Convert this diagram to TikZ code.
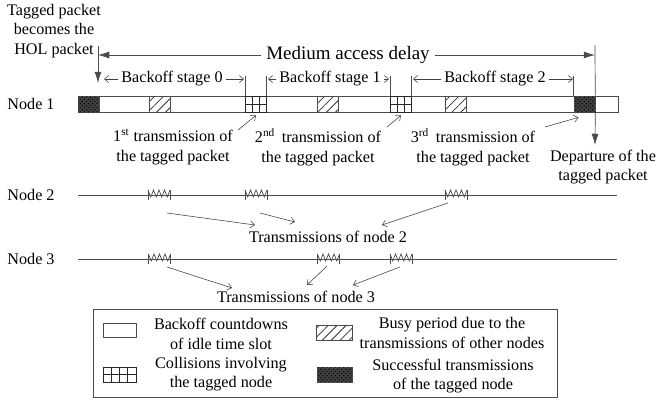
\documentclass[tikz,border=0pt]{standalone}
\usepackage{fontspec}
\setmainfont{Liberation Serif}
\usetikzlibrary{arrows.meta,patterns,patterns.meta,calc}

\tikzset{
  gline/.style={draw=black!70, line width=0.5pt},
  bigarrow/.style={draw=black!70, fill=black!70, line width=0.5pt, -{Latex[length=8pt,width=5pt]}},
  smallarrow/.style={draw=black!75, line width=0.4pt, -{Straight Barb[length=3pt,width=5pt]}},
  slot/.style={draw=black!70, line width=0.5pt, inner sep=0pt, minimum width=0.52cm, minimum height=0.4cm},
  idle/.style={slot, fill=white},
  busy/.style={slot, pattern={Lines[angle=45,distance=4.5pt,line width=0.55pt]}, pattern color=black!80},
  succ/.style={slot, fill=black!75, postaction={pattern=crosshatch dots, pattern color=black}},
  coll/.style={slot, draw=black!85, path picture={
      \draw[black!85] (path picture bounding box.west) -- (path picture bounding box.east);
      \foreach \k [evaluate=\k as \f using \k/#1] in {1,...,#1}
        \draw[black!85] ($(path picture bounding box.north west)!\f!(path picture bounding box.north east)$)
          -- ($(path picture bounding box.south west)!\f!(path picture bounding box.south east)$);}},
  lbl/.style={inner sep=2pt, align=center},
  zz/.pic={
    \draw[black!70, line width=0.5pt] (-11,-5) -- (-11,5) (11,-5) -- (11,5);
    \draw[black!70, line width=0.5pt] (-11,-5) -- (-8.25,2) -- (-5.5,-5) -- (-2.75,2) -- (0,-5)
      -- (2.75,2) -- (5.5,-5) -- (8.25,2) -- (11,-5);}
}

\begin{document}
\begin{tikzpicture}[x=0.025cm, y=-0.025cm, font=\fontsize{11.5}{14}\selectfont]
  \useasboundingbox (0,0) rectangle (660,403);

  % node 1 time line
  \node[lbl] (N1) at (31,104) {Node 1};
  \node[idle, minimum width=13.5cm] (bar) at (348,104) {};
  \node[succ] (S1) at (88.5,104) {};
  \node[busy] (B1) at (159.5,104) {};
  \node[coll=3] (C1) at (256,104) {};
  \node[busy] (B2) at (328,104) {};
  \node[coll=3] (C2) at (401,104) {};
  \node[busy] (B3) at (456,104) {};
  \node[succ] (S2) at (584.5,104) {};

  % delay and stages
  \node[lbl, align=center] (HOL) at (54,31) {Tagged packet\\becomes the\\HOL packet};
  \node[font=\fontsize{13.5}{16}\selectfont] (MAD) at (348,55) {Medium access delay};
  \coordinate (holtop) at (98,46);
  \coordinate (holmid) at (98,55);
  \coordinate (holtip) at (98,83);
  \coordinate (deptop) at (595,45);
  \coordinate (depmid) at (595,55);
  \coordinate (deptip) at (595,145);
  \draw[gline] (holtop) -- (holmid);
  \draw[bigarrow] (holmid) -- (holtip);
  \draw[bigarrow] (MAD.west) -- (holmid);
  \draw[bigarrow] (MAD.east) -- (depmid);
  \draw[gline] (deptop) -- (S2.north east);
  \draw[bigarrow] (S2.south east) -- (deptip);

  \draw[gline] (C1.north west) -- ++(0,-20);
  \draw[gline] (C1.north east) -- ++(0,-20);
  \draw[gline] (C2.north west) -- ++(0,-20);
  \draw[gline] (C2.north east) -- ++(0,-20);
  \draw[gline] (S2.north west) -- ++(0,-20);

  \node[lbl] (ST0) at (172,79) {Backoff stage 0};
  \node[lbl] (ST1) at (330,79) {Backoff stage 1};
  \node[lbl] (ST2) at (495,79) {Backoff stage 2};
  \coordinate (s0a) at (104,79);
  \coordinate (s0b) at (244,79);
  \coordinate (s1a) at (268,79);
  \coordinate (s1b) at (389,79);
  \coordinate (s2a) at (413,79);
  \coordinate (s2b) at (573,79);
  \draw[smallarrow] (ST0.west) -- (s0a);
  \draw[smallarrow] (ST0.east) -- (s0b);
  \draw[smallarrow] (ST1.west) -- (s1a);
  \draw[smallarrow] (ST1.east) -- (s1b);
  \draw[smallarrow] (ST2.west) -- (s2a);
  \draw[smallarrow] (ST2.east) -- (s2b);

  % transmissions of the tagged packet
  \node[lbl] (T1) at (173,147) {1\textsuperscript{st} transmission of\\the tagged packet};
  \node[lbl] (T2) at (318,147) {2\textsuperscript{nd}\, transmission of\\the tagged packet};
  \node[lbl] (T3) at (473,147) {3\textsuperscript{rd}\, transmission of\\the tagged packet};
  \node[lbl] (DEP) at (603,167) {Departure of the\\tagged packet};
  \draw[smallarrow] ([shift={(65,-17)}]T1.center) -- ([shift={(0,3)}]C1.south);
  \draw[smallarrow] ([shift={(69,-20)}]T2.center) -- ([shift={(0,3)}]C2.south);
  \draw[smallarrow] ([shift={(72,-20)}]T3.center) -- ([shift={(-6,5)}]S2.south);

  % node 2
  \node[lbl] (N2) at (31,195) {Node 2};
  \coordinate (n2a) at (78,195);
  \coordinate (n2b) at (617,195);
  \draw[gline] (n2a) -- (n2b);
  \coordinate (Z21) at (159,195);
  \coordinate (Z22) at (256,195);
  \coordinate (Z23) at (456,195);
  \pic at (Z21) {zz};
  \pic at (Z22) {zz};
  \pic at (Z23) {zz};
  \node[lbl] (TX2) at (328,237) {Transmissions of node 2};
  \draw[smallarrow] ([shift={(8,18)}]Z21) -- ([shift={(-73,-12)}]TX2.center);
  \draw[smallarrow] ([shift={(4,18)}]Z22) -- ([shift={(-33,-15)}]TX2.center);
  \draw[smallarrow] ([shift={(-8,8)}]Z23) -- ([shift={(54,-12)}]TX2.center);

  % node 3
  \node[lbl] (N3) at (31,259) {Node 3};
  \coordinate (n3a) at (78,259);
  \coordinate (n3b) at (617,259);
  \draw[gline] (n3a) -- (n3b);
  \coordinate (Z31) at (159.5,259);
  \coordinate (Z32) at (328.5,259);
  \coordinate (Z33) at (401,259);
  \pic at (Z31) {zz};
  \pic at (Z32) {zz};
  \pic at (Z33) {zz};
  \node[lbl] (TX3) at (296,297) {Transmissions of node 3};
  \draw[smallarrow] ([shift={(7.5,8)}]Z31) -- ([shift={(-64,-9)}]TX3.center);
  \draw[smallarrow] ([shift={(-1.5,7)}]Z32) -- ([shift={(11,-12)}]TX3.center);
  \draw[smallarrow] ([shift={(-1,8)}]Z33) -- ([shift={(57,-12)}]TX3.center);

  % legend
  \node[draw=black!70, line width=0.5pt, minimum width=11.6cm, minimum height=2.2cm] (LEG) at (325,353) {};
  \node[idle, minimum width=0.83cm, minimum height=0.35cm] (L1) at (119.5,330) {};
  \node[lbl] (L1T) at (221,334) {Backoff countdowns\\of idle time slot};
  \node[coll=4, minimum width=0.83cm, minimum height=0.37cm] (L2) at (119.5,374.5) {};
  \node[lbl] (L2T) at (221,374) {Collisions involving\\the tagged node};
  \node[busy, minimum width=0.9cm, minimum height=0.37cm] (L3) at (334,332.5) {};
  \node[lbl] (L3T) at (452,333) {Busy period due to the\\transmissions of other nodes};
  \node[succ, minimum width=0.88cm, minimum height=0.37cm] (L4) at (334.5,374.5) {};
  \node[lbl] (L4T) at (453,376) {Successful transmissions\\of the tagged node};
\end{tikzpicture}
\end{document}
